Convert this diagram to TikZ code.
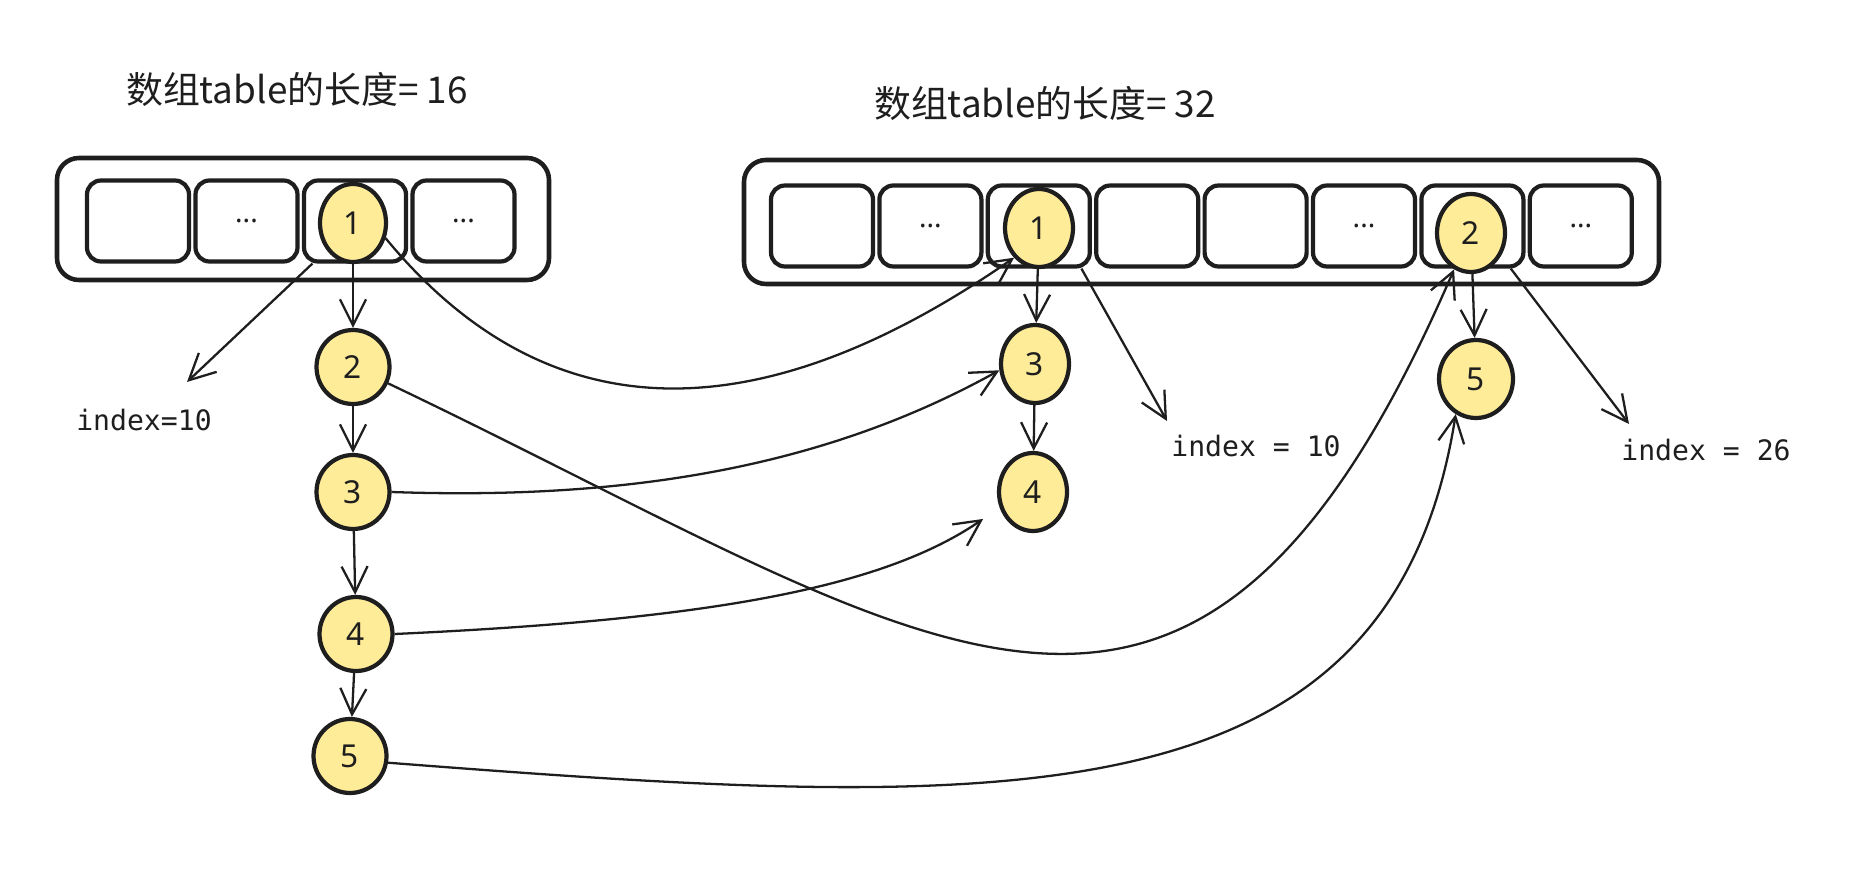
\documentclass[tikz,border=0pt]{standalone}
\usepackage{fontspec}
\setmainfont{Noto Sans}
\setmonofont{DejaVu Sans Mono}
\newfontfamily\cjk{Noto Sans CJK SC}
\usepackage{xcolor}
\usepackage{tikz}
\usetikzlibrary{arrows.meta,positioning,calc,shapes.geometric}
\definecolor{ink}{HTML}{1E1E1E}
\definecolor{ballfill}{HTML}{FFEC99}
\newcommand{\celldots}{...}

\begin{document}
\begin{tikzpicture}[x=0.1mm,y=-0.1mm,>={Straight Barb[length=2.6mm,width=2.6mm]},
 frame/.style={draw=ink,line width=1.3pt,rounded corners=2.2mm},
 cell/.style={draw=ink,line width=1.2pt,rounded corners=1.4mm,minimum width=10.2mm,minimum height=8.1mm,inner sep=0pt,font=\footnotesize,text=ink},
 ball/.style={ellipse,draw=ink,line width=1.2pt,fill=ballfill,minimum width=7.3mm,minimum height=7.4mm,inner sep=0pt,font=\small,text=ink},
 tall/.style={ball,minimum width=6.8mm,minimum height=7.8mm},
 link/.style={->,draw=ink,line width=0.65pt},
 idx/.style={font=\ttfamily\fontsize{8}{10}\selectfont,text=ink},
 title/.style={font=\cjk\fontsize{10.5}{12}\selectfont,text=ink}]
\useasboundingbox (0,0) rectangle (1858,880);
\node[title] (t16) at (297,89) {数组table的长度= 16};
\node[title] (t32) at (1045,103) {数组table的长度= 32};
\draw[frame] (57,158) rectangle (549,280);
\draw[frame] (744,160) rectangle (1659,284);
\foreach \i/\t in {0/,1/\celldots,2/,3/\celldots}
  \node[cell] (l\i) at ({138+108.5*\i},221) {\t};
\foreach \i/\t in {0/,1/\celldots,2/,3/,4/,5/\celldots,6/,7/\celldots}
  \node[cell] (r\i) at ({822+108.4*\i},226) {\t};
\node[ball,minimum width=6.6mm,minimum height=7.8mm] (o1) at (353,223) {1};
\node[ball] (o2) at (353,367) {2};
\node[ball] (o3) at (353,492) {3};
\node[ball] (o4) at (356,634) {4};
\node[ball] (o5) at (350,756) {5};
\node[tall] (n1) at (1039,228) {1};
\node[tall] (n3) at (1035,364) {3};
\node[tall] (n4) at (1033,492) {4};
\node[tall] (n2) at (1471,233) {2};
\node[tall,minimum width=7.4mm] (n5) at (1476,379) {5};
\node[idx] (k1) at (144,420) {index=10};
\node[idx] (k2) at (1256,446) {index = 10};
\node[idx] (k3) at (1706,450) {index = 26};
\coordinate (e1) at (187,382);
\coordinate (e2) at (1167,421);
\coordinate (e3) at (1629,424);
\draw[link] (l2.-135) -- (e1);
\draw[link] (r2.-45) -- (e2);
\draw[link] (r6.-48) -- (e3);
\draw[link] (o1) -- (o2);
\draw[link] (o2) -- (o3);
\draw[link] (o3) -- (o4);
\draw[link] (o4) -- (o5);
\draw[link] (n1) -- (n3);
\draw[link] (n3) -- (n4);
\draw[link] (n2) -- (n5);
\draw[link] (o1.-25) .. controls (560,450) and (780,420) .. (n1.-130);
\draw[link] (o2.-25) .. controls (937,645) and (1192,876) .. (n2.-115);
\draw[link] (o3.east) .. controls (620,500) and (820,470) .. (n3.190);
\draw[link,shorten >=2mm] (o4.east) .. controls (700,620) and (880,590) .. (n4.205);
\draw[link] (o5.-10) .. controls (1000,810) and (1390,830) .. (n5.-120);
\end{tikzpicture}
\end{document}
